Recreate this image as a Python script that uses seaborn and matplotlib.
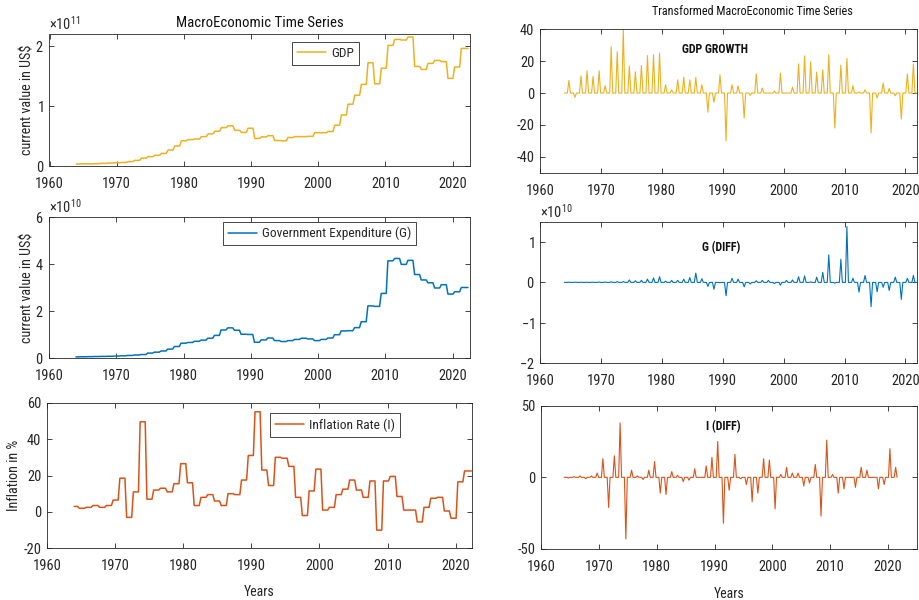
import numpy as np
import matplotlib
matplotlib.use("Agg")
import matplotlib.pyplot as plt
from matplotlib import font_manager as fm
from matplotlib.ticker import ScalarFormatter
import seaborn as sns

# ---------------- data (annual values) ----------------
years = list(range(1964, 2023))
# GDP, billions of current US$
gdp_bn = [3.3, 3.6, 3.5, 3.9, 4.4, 4.9, 5.4, 5.9, 7.4, 9.4, 13.2, 15.6, 17.8, 21.0, 26.6, 33.4,
          42.0, 44.0, 45.0, 49.0, 53.5, 58.0, 64.0, 67.0, 59.5, 56.0, 63.0, 46.0, 48.5, 50.5,
          42.5, 42.0, 47.5, 49.0, 49.0, 49.5, 55.5, 55.5, 57.5, 68.0, 85.0, 103.0, 118.0,
          136.0, 172.0, 137.0, 163.0, 201.0, 211.0, 210.0, 215.0, 166.0, 161.0, 171.0, 176.0,
          174.0, 146.0, 165.0, 196.0]
# Government expenditure, billions of current US$
gov_bn = [0.6, 0.65, 0.7, 0.75, 0.8, 0.85, 0.95, 1.05, 1.2, 1.4, 1.6, 2.2, 2.6, 3.1, 3.9, 5.0,
          6.4, 6.7, 7.2, 7.7, 8.5, 9.7, 12.0, 12.9, 11.9, 10.2, 10.1, 6.8, 7.8, 8.6, 7.5, 7.1,
          7.5, 8.0, 8.5, 8.2, 7.5, 8.0, 8.6, 10.0, 11.6, 11.7, 13.0, 15.5, 22.2, 22.0, 27.5,
          41.3, 42.3, 39.8, 41.5, 35.5, 33.2, 32.0, 29.8, 31.2, 27.2, 28.2, 30.0]
# Inflation rate, %
inflation = [3.0, 2.0, 2.5, 3.5, 2.5, 3.5, 6.5, 18.5, -3.0, 11.0, 49.5, 7.0, 12.0, 13.0, 11.0,
             15.5, 26.5, 16.0, 3.5, 8.0, 9.5, 6.0, 3.5, 10.0, 9.5, 17.5, 31.0, 55.0, 23.0,
             14.5, 30.0, 29.5, 25.0, 8.0, -2.0, 11.5, 23.5, 1.0, 2.5, 9.5, 12.5, 17.5, 12.0,
             8.0, 17.0, -10.0, 17.0, 19.5, 8.5, 1.0, 1.0, -5.5, 2.5, 7.5, 8.0, 0.5, -3.5,
             16.5, 22.5]

# transformed series: value of the change into each year 1965..2022
change_years = list(range(1965, 2023))
gdp_growth = [7.9, -2.7, 10.8, 14.0, 10.4, 14.0, 4.6, 29.0, 26.0, 40.0, 17.0, 13.3, 17.3, 23.5,
              24.0, 25.0, 5.2, 2.0, 8.3, 10.0, 8.3, 9.8, 5.2, -12.0, -5.8, 11.5, -30.0, 5.2,
              4.4, -15.8, -1.5, 12.0, 3.1, 0.0, 1.2, 12.5, 0.0, 3.7, 18.3, 23.3, 19.6, 13.1,
              14.6, 24.0, -21.9, 17.5, 21.7, 4.6, 0.6, 2.0, -25.0, -3.1, 6.2, 2.9, -1.7,
              -16.3, 12.0, 18.1]
gov_diff_bn = [0.05, 0.05, 0.05, 0.05, 0.05, 0.1, 0.1, 0.15, 0.2, 0.2, 0.6, 0.4, 0.5, 0.8,
               1.1, 1.4, 0.3, 0.5, 0.5, 0.8, 1.2, 2.3, 0.9, -1.0, -1.7, -0.1, -3.3, 1.0, 0.8,
               -1.1, -0.4, 0.4, 0.5, 0.5, -0.3, -0.7, 0.5, 0.6, 1.4, 1.6, 0.1, 1.3, 2.5, 6.8,
               -0.2, 5.7, 13.8, 1.0, -2.4, 1.7, -6.0, -2.3, -1.2, -2.0, 1.3, -4.2, 1.0, 1.7]
infl_diff = [-0.5, 0.5, 1.0, -1.0, 1.0, 3.0, 13.0, -21.0, 15.0, 38.0, -43.0, 5.0, 1.0, -1.5,
             5.0, 11.0, -11.0, -12.0, 4.0, 1.5, -3.0, -2.0, 6.0, 0.0, 8.0, 14.0, 25.0,
             -32.0, -9.0, 16.0, -1.0, -5.0, -17.0, -11.0, 13.0, 12.0, -22.0, 2.0, 7.0, 3.0,
             3.0, -6.0, -4.0, 9.0, -27.0, 26.0, 2.0, -11.0, -8.0, 0.0, -7.0, 7.0, 5.0, 0.0,
             -8.0, -5.0, 20.0, 7.0]

# quarterly layout: the first year has 3 quarters in the sample, the last 5 samples
quarters_per_year = [3] + [4] * 57 + [5]
n_q = sum(quarters_per_year)
t = np.linspace(1964.0, 2022.3, n_q)
change_idx = np.cumsum(quarters_per_year)[:-1]


def quarterly(annual):
    return np.repeat(np.asarray(annual, float), quarters_per_year)


def spikes(values):
    s = np.zeros(n_q)
    s[change_idx] = values
    return s


gdp_q = quarterly(gdp_bn) * 1e9
gov_q = quarterly(gov_bn) * 1e9
inf_q = quarterly(inflation)
growth_q = spikes(gdp_growth)
gdiff_q = spikes(gov_diff_bn) * 1e9
idiff_q = spikes(infl_diff)
idiff_mask = t <= 2021.6

# ---------------- style ----------------
sns.set_theme(style="ticks")

entries = fm.fontManager.ttflist
font_family, font_stretch, digit_w = "Liberation Sans", "normal", 0.556
found = False
for name, dw in [("Liberation Sans Narrow", 0.456), ("Arial Narrow", 0.456),
                 ("Roboto Condensed", 0.51)]:
    if any(f.name == name for f in entries):
        font_family, digit_w, found = name, dw, True
        break
if not found:
    for f in entries:
        if f.name == "DejaVu Sans" and "condensed" in str(f.stretch):
            font_family, font_stretch, digit_w = "DejaVu Sans", f.stretch, 0.572
            found = True
            break

fs = 7.4 / (digit_w * 100 / 72)
if not found:
    fs = 9.8

DARK = "#262626"
plt.rcParams.update({
    "font.family": [font_family, "DejaVu Sans"],
    "font.stretch": font_stretch,
    "mathtext.fontset": "custom",
    "mathtext.rm": font_family,
    "mathtext.it": font_family,
    "axes.unicode_minus": False,
    "axes.edgecolor": DARK,
    "axes.linewidth": 0.6,
    "axes.labelcolor": DARK,
    "xtick.color": DARK,
    "ytick.color": DARK,
    "xtick.direction": "in",
    "ytick.direction": "in",
    "xtick.top": True,
    "ytick.right": True,
    "xtick.major.size": 3.6,
    "ytick.major.size": 3.6,
    "xtick.major.width": 0.6,
    "ytick.major.width": 0.6,
    "xtick.major.pad": 8.0,
    "ytick.major.pad": 4.0,
    "xtick.labelsize": fs,
    "ytick.labelsize": fs,
    "axes.facecolor": "white",
    "figure.facecolor": "white",
})

C_GDP = "#EDB120"
C_GOV = "#0072BD"
C_INF = "#D95319"

W, H = 920, 600
fig = plt.figure(figsize=(W / 100, H / 100), dpi=100)


def add_ax(x0, y0, x1, y1):
    return fig.add_axes([x0 / W, 1 - y1 / H, (x1 - x0) / W, (y1 - y0) / H])


ax_gdp = add_ax(49.5, 34, 470, 166)
ax_gov = add_ax(49.0, 216.7, 470, 358.3)
ax_inf = add_ax(47.0, 402.7, 472, 548.3)
ax_gro = add_ax(540, 29.3, 917, 172.7)
ax_gdf = add_ax(540, 221.7, 917, 363.3)
ax_idf = add_ax(541, 405.7, 917, 549)

xt = list(range(1960, 2021, 10))


def sci(ax):
    fmt = ScalarFormatter(useMathText=True)
    fmt.set_powerlimits((0, 0))
    ax.yaxis.set_major_formatter(fmt)
    ax.yaxis.get_offset_text().set_fontsize(fs)
    ax.yaxis.get_offset_text().set_color(DARK)


def legend(ax, x0, y0):
    ax.legend(loc="upper left", bbox_to_anchor=(x0 / W, 1 - y0 / H),
              bbox_transform=fig.transFigure, borderaxespad=0, fontsize=fs * 0.92,
              frameon=True, fancybox=False, framealpha=1, edgecolor=DARK,
              handlelength=29 / (fs * 0.92 * 100 / 72), handletextpad=0.35,
              borderpad=0.38).get_frame().set_linewidth(0.6)


# --- left column ---
sns.lineplot(x=t, y=gdp_q, ax=ax_gdp, color=C_GDP, linewidth=1.1, label="GDP", errorbar=None)
ax_gdp.set_xlim(1960, 2022.6)
ax_gdp.set_ylim(0, 2.2e11)
ax_gdp.set_yticks([0, 1e11, 2e11])
ax_gdp.set_xticks(xt)
sci(ax_gdp)
ax_gdp.set_title("MacroEconomic Time Series", fontsize=fs * 1.02, pad=5, color="#111111")
ax_gdp.set_ylabel("current value in US\\$", fontsize=fs * 0.97)
ax_gdp.yaxis.set_label_coords(-0.036, 0.5)
legend(ax_gdp, 292.3, 41.7)

sns.lineplot(x=t, y=gov_q, ax=ax_gov, color=C_GOV, linewidth=1.1,
             label="Government Expenditure (G)", errorbar=None)
ax_gov.set_xlim(1960, 2022.6)
ax_gov.set_ylim(0, 6e10)
ax_gov.set_yticks([0, 2e10, 4e10, 6e10])
ax_gov.set_xticks(xt)
sci(ax_gov)
ax_gov.set_ylabel("current value in US\\$", fontsize=fs * 0.97)
ax_gov.yaxis.set_label_coords(-0.034, 0.5)
legend(ax_gov, 223.3, 221.7)

sns.lineplot(x=t, y=inf_q, ax=ax_inf, color=C_INF, linewidth=1.1,
             label="Inflation Rate (I)", errorbar=None)
ax_inf.set_xlim(1960, 2022.4)
ax_inf.set_ylim(-20, 60)
ax_inf.set_yticks([-20, 0, 20, 40, 60])
ax_inf.set_xticks(xt)
ax_inf.set_ylabel("Inflation in %", fontsize=fs * 0.97)
ax_inf.yaxis.set_label_coords(-0.062, 0.5)
ax_inf.set_xlabel("Years", fontsize=fs * 0.95)
ax_inf.xaxis.set_label_coords(0.5, -0.252)
legend(ax_inf, 270, 413.3)

# --- right column ---
sns.lineplot(x=t, y=growth_q, ax=ax_gro, color=C_GDP, linewidth=0.8, errorbar=None)
ax_gro.set_xlim(1960, 2021.9)
ax_gro.set_ylim(-50, 40)
ax_gro.set_yticks([-40, -20, 0, 20, 40])
ax_gro.set_xticks(xt)
ax_gro.text(0.463, 0.861, "GDP GROWTH", transform=ax_gro.transAxes, ha="center",
            va="center", fontsize=fs * 0.82, fontweight="bold", color="#111111")
fig.text(752.5 / W, 1 - 11.3 / H, "Transformed MacroEconomic Time Series",
         ha="center", va="center", fontsize=fs * 0.84, color="#111111")

sns.lineplot(x=t, y=gdiff_q, ax=ax_gdf, color=C_GOV, linewidth=0.8, errorbar=None)
ax_gdf.set_xlim(1960, 2021.9)
ax_gdf.set_ylim(-2e10, 1.5e10)
ax_gdf.set_yticks([-2e10, -1e10, 0, 1e10])
ax_gdf.set_xticks(xt)
sci(ax_gdf)
ax_gdf.text(0.48, 0.816, "G (DIFF)", transform=ax_gdf.transAxes, ha="center",
            va="center", fontsize=fs * 0.82, fontweight="bold", color="#111111")

sns.lineplot(x=t[idiff_mask], y=idiff_q[idiff_mask], ax=ax_idf, color=C_INF,
             linewidth=0.8, errorbar=None)
ax_idf.set_xlim(1960, 2025)
ax_idf.set_ylim(-50, 50)
ax_idf.set_yticks([-50, 0, 50])
ax_idf.set_xticks(xt)
ax_idf.text(0.484, 0.853, "I (DIFF)", transform=ax_idf.transAxes, ha="center",
            va="center", fontsize=fs * 0.82, fontweight="bold", color="#111111")
ax_idf.set_xlabel("Years", fontsize=fs * 0.95)
ax_idf.xaxis.set_label_coords(0.5, -0.263)

for ax in (ax_gro, ax_gdf, ax_idf):
    ax.set_ylabel("")
    leg = ax.get_legend()
    if leg is not None:
        leg.remove()

fig.savefig("out.png", dpi=100)
